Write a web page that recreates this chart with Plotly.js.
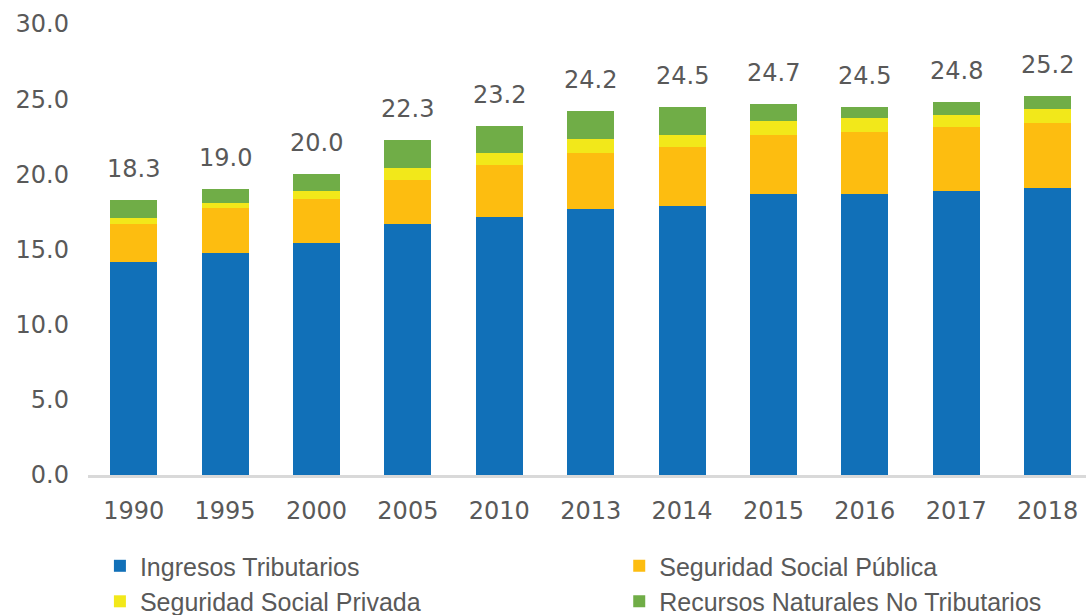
<!DOCTYPE html>
<html>
<head>
<meta charset="utf-8">
<script src="https://cdn.plot.ly/plotly-3.0.1.min.js"></script>
<style>html,body{margin:0;padding:0;background:#fff;}#chart{width:1086px;height:615px;}</style>
</head>
<body>
<div id="chart"></div>
<script>
const years = ['1990','1995','2000','2005','2010','2013','2014','2015','2016','2017','2018'];
const ingresosTributarios = [14.2, 14.8, 15.4, 16.7, 17.15, 17.7, 17.9, 18.7, 18.7, 18.9, 19.1];
const seguridadSocialPublica = [2.5, 2.95, 2.95, 2.95, 3.45, 3.7, 3.95, 3.9, 4.1, 4.25, 4.3];
const seguridadSocialPrivada = [0.4, 0.35, 0.55, 0.75, 0.8, 0.95, 0.75, 0.95, 0.95, 0.8, 0.95];
const recursosNaturales = [1.2, 0.9, 1.1, 1.9, 1.8, 1.85, 1.9, 1.15, 0.75, 0.85, 0.85];
const yTicks = [0, 5, 10, 15, 20, 25, 30];

const seriesNames = ['Ingresos Tributarios', 'Seguridad Social Pública', 'Seguridad Social Privada', 'Recursos Naturales No Tributarios'];
const seriesColors = ['#1170B8', '#FDBD10', '#F2E81A', '#70AD47'];
const seriesValues = [ingresosTributarios, seguridadSocialPublica, seguridadSocialPrivada, recursosNaturales];
const seriesLegend = ['legend', 'legend2', 'legend', 'legend2'];

const traces = seriesValues.map((vals, i) => ({
  type: 'bar',
  x: years,
  y: vals,
  name: seriesNames[i],
  legend: seriesLegend[i],
  marker: {color: seriesColors[i], line: {width: 0}},
  hoverinfo: 'x+y+name'
}));

const totals = years.map((_, j) => seriesValues.reduce((s, arr) => s + arr[j], 0));
const annotations = years.map((yr, j) => ({
  x: j, y: totals[j], xref: 'x', yref: 'y',
  text: totals[j].toFixed(1),
  showarrow: false, yanchor: 'middle', yshift: 31,
  font: {family: 'DejaVu Sans', size: 24, color: '#595959'}
}));

const legendFont = {family: 'Liberation Sans, Arial, sans-serif', size: 25, color: '#595959'};
const layout = {
  width: 1086, height: 615,
  margin: {l: 88, r: 0, t: 24, b: 140, autoexpand: false},
  paper_bgcolor: '#ffffff', plot_bgcolor: '#ffffff',
  barmode: 'stack',
  bargap: 0.486,
  showlegend: true,
  font: {family: 'DejaVu Sans', color: '#595959', size: 24},
  xaxis: {
    type: 'category',
    range: [-0.5, 10.42],
    automargin: false,
    showgrid: false, zeroline: false,
    showline: true, linecolor: '#D9D9D9', linewidth: 3,
    ticks: '', ticklabelstandoff: 12, tickangle: 0,
    tickfont: {family: 'DejaVu Sans', size: 24, color: '#595959'},
    fixedrange: true
  },
  yaxis: {
    range: [0, 30],
    automargin: false,
    tickvals: yTicks,
    tickformat: '.1f',
    showgrid: false, zeroline: false, showline: false,
    ticks: '', ticklabelstandoff: 18,
    tickfont: {family: 'DejaVu Sans', size: 24, color: '#595959'},
    fixedrange: true
  },
  legend: {
    orientation: 'v',
    xref: 'container', yref: 'container',
    x: 0.092, y: 0.117, xanchor: 'left', yanchor: 'top',
    traceorder: 'normal', tracegroupgap: 0,
    font: legendFont,
    bgcolor: 'rgba(0,0,0,0)'
  },
  legend2: {
    orientation: 'v',
    xref: 'container', yref: 'container',
    x: 0.5702, y: 0.117, xanchor: 'left', yanchor: 'top',
    traceorder: 'normal', tracegroupgap: 0,
    font: legendFont,
    bgcolor: 'rgba(0,0,0,0)'
  },
  annotations: annotations
};

Plotly.newPlot('chart', traces, layout, {displayModeBar: false, staticPlot: true});
</script>
</body>
</html>
